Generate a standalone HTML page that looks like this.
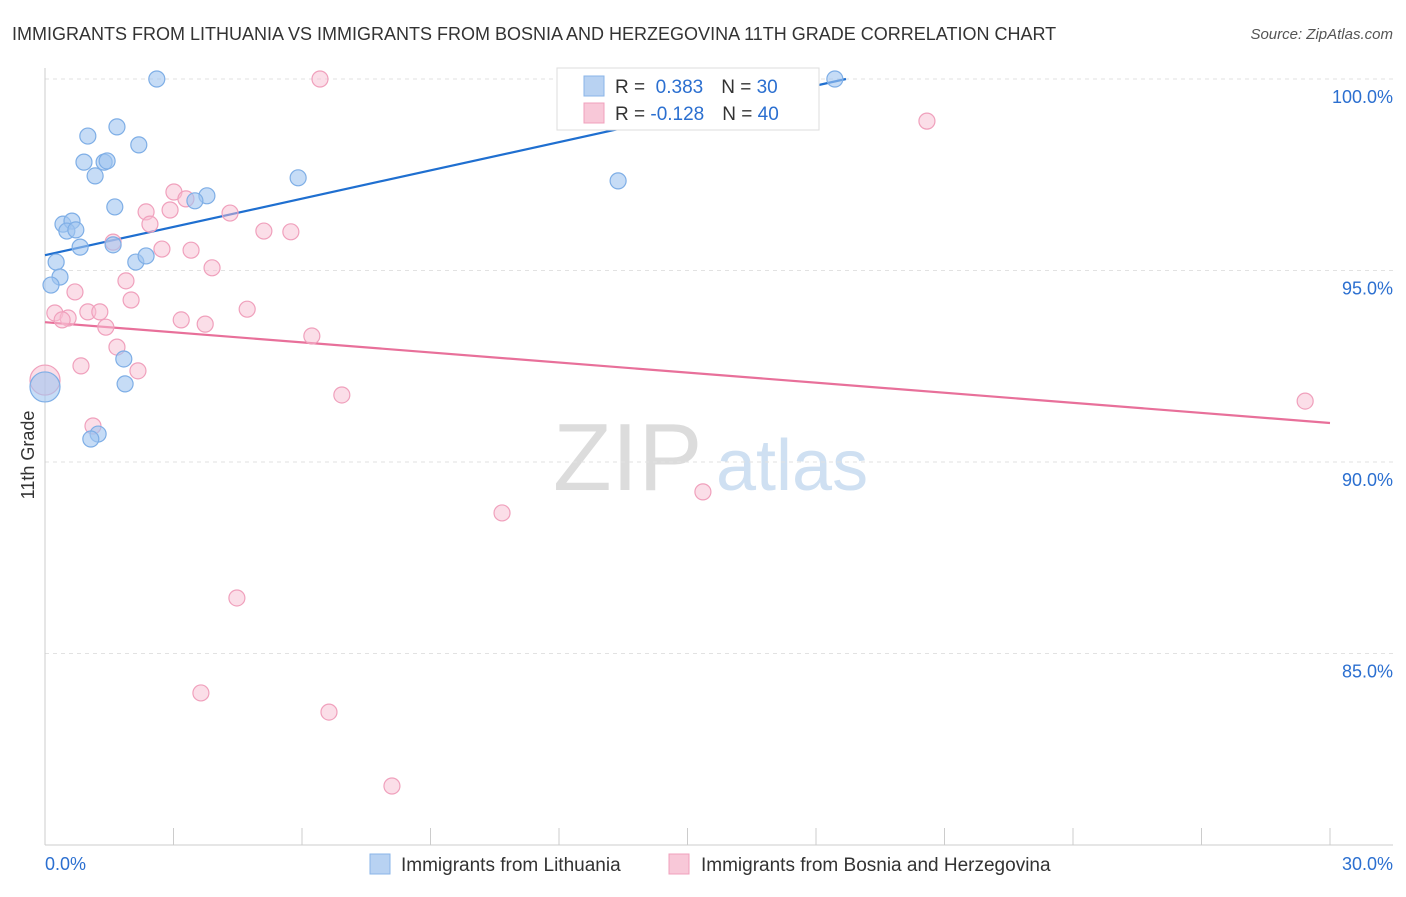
<!DOCTYPE html>
<html><head><meta charset="utf-8"><style>
body{margin:0;background:#fff;font-family:"Liberation Sans",sans-serif;}
svg text{font-family:"Liberation Sans",sans-serif;}
</style></head><body>
<svg id="chart" width="1406" height="892" xmlns="http://www.w3.org/2000/svg">
<text x="12" y="40" font-size="18" fill="#333">IMMIGRANTS FROM LITHUANIA VS IMMIGRANTS FROM BOSNIA AND HERZEGOVINA 11TH GRADE CORRELATION CHART</text>
<text x="1393" y="39" font-size="15" fill="#555" font-style="italic" text-anchor="end">Source: ZipAtlas.com</text>
<g>
<text x="553" y="490" font-size="96" fill="#dcdcdc" font-family="Liberation Serif, serif">ZIP</text>
<text x="716" y="490" font-size="72" fill="#cfe0f2">atlas</text>
</g>
<g id="grid"></g>
<g id="axes"></g>
<g id="trends"></g>
<g id="points"></g>
<text transform="translate(34,455) rotate(-90)" font-size="18" fill="#333" text-anchor="middle">11th Grade</text>
<g>
<rect x="557" y="68" width="262" height="62" fill="#fff" stroke="#ddd"/>
<rect x="584" y="76" width="20" height="20" fill="#b8d2f2" stroke="#8ab4e8"/>
<text x="615" y="93" font-size="19" fill="#333">R = <tspan fill="#2b6fd0">&#160;0.383</tspan><tspan dx="18" fill="#333">N = </tspan><tspan fill="#2b6fd0">30</tspan></text>
<rect x="584" y="103" width="20" height="20" fill="#f8c8d8" stroke="#f0a0bc"/>
<text x="615" y="120" font-size="19" fill="#333">R = <tspan fill="#2b6fd0">-0.128</tspan><tspan dx="18" fill="#333">N = </tspan><tspan fill="#2b6fd0">40</tspan></text>
</g>
<g>
<rect x="370" y="854" width="20" height="20" fill="#b8d2f2" stroke="#8ab4e8"/>
<text x="401" y="871" font-size="19" fill="#333">Immigrants from Lithuania</text>
<rect x="669" y="854" width="20" height="20" fill="#f8c8d8" stroke="#f0a0bc"/>
<text x="701" y="871" font-size="19" fill="#333">Immigrants from Bosnia and Herzegovina</text>
</g>
</svg>
<script>
const yTicks=[100,95,90,85];
const yTickLabels=["100.0%","95.0%","90.0%","85.0%"];
const xTicks=[0,3,6,9,12,15,18,21,24,27,30];
const blueX=[2.61,1.00,1.68,2.19,0.91,1.38,1.45,1.17,1.63,3.78,3.50,5.91,13.38,18.44,0.42,0.63,0.51,0.72,0.82,1.59,0.26,0.35,0.14,2.12,2.36,1.84,1.87,1.24,1.07,0];
const blueY=[100,98.51,98.75,98.28,97.83,97.83,97.86,97.47,96.66,96.95,96.82,97.42,97.34,100,96.21,96.29,96.03,96.06,95.61,95.67,95.22,94.83,94.62,95.22,95.38,92.69,92.04,90.73,90.60,91.96];
const pinkX=[6.42,20.59,3.01,2.36,2.92,3.29,2.45,4.32,5.11,5.74,1.59,2.73,3.41,3.90,1.89,0.70,2.01,4.72,0.23,0.54,1.00,1.28,0.40,3.18,3.74,1.42,6.23,1.68,0.84,2.17,0,6.93,29.42,1.12,15.36,10.67,4.48,3.64,6.63,8.10];
const pinkY=[100,98.90,97.05,96.53,96.58,96.87,96.21,96.50,96.03,96.01,95.74,95.56,95.53,95.07,94.73,94.44,94.23,93.99,93.89,93.76,93.92,93.92,93.71,93.71,93.60,93.52,93.29,93.00,92.51,92.38,92.14,91.75,91.59,90.94,89.22,88.67,86.45,83.97,83.47,81.54];
const blueTrend=[95.40,0.246];
const pinkTrend=[93.65,-0.0877];
const X=v=>45+v*(1285/30);
const Y=v=>79+(100-v)*38.3;
const NS="http://www.w3.org/2000/svg";
function mk(tag,attrs,parent){const e=document.createElementNS(NS,tag);for(const k in attrs)e.setAttribute(k,attrs[k]);document.getElementById(parent).appendChild(e);return e;}
yTicks.forEach((t,i)=>{
 const l=mk('line',{x1:45,x2:1393,y1:Y(t),y2:Y(t),stroke:'#e2e2e2','stroke-dasharray':'4,4'},'grid');
 
 
 const tx=mk('text',{x:1393,y:Y(t)+24,'font-size':18,fill:'#2b6fd0','text-anchor':'end'},'grid');
 tx.textContent=yTickLabels[i];
 
 
});
const ax=mk('line',{x1:45,x2:1393,y1:845,y2:845,stroke:'#ccc'},'axes');


const ay=mk('line',{x1:45,x2:45,y1:68,y2:845,stroke:'#ccc'},'axes');


xTicks.forEach(t=>{
 const l=mk('line',{x1:X(t),x2:X(t),y1:828,y2:845,stroke:'#ccc'},'axes');
 
 
});
const xl0=mk('text',{x:45,y:870,'font-size':18,fill:'#2b6fd0'},'axes');xl0.textContent='0.0%';


const xl1=mk('text',{x:1393,y:870,'font-size':18,fill:'#2b6fd0','text-anchor':'end'},'axes');xl1.textContent='30.0%';


function pts(xs,ys,fill,stroke,name){
 xs.forEach((x,i)=>{
  const big=(x===0);
  const c=mk('circle',{cx:X(x),cy:Y(ys[i]),r:big?15:8,fill:fill,stroke:stroke,'stroke-width':1.2},'points');
  
  
 });
}
pts(pinkX,pinkY,'rgba(248,190,210,0.5)','#f0a0bc','pink-point');
pts(blueX,blueY,'rgba(160,196,240,0.6)','#7eaee6','blue-point');
const bxEnd=(100-blueTrend[0])/blueTrend[1];
const bt=mk('line',{x1:X(0),y1:Y(blueTrend[0]),x2:X(bxEnd),y2:Y(100),stroke:'#1f6fd0','stroke-width':2.2},'trends');


const pt=mk('line',{x1:X(0),y1:Y(pinkTrend[0]),x2:X(30),y2:Y(pinkTrend[0]+pinkTrend[1]*30),stroke:'#e8709a','stroke-width':2.2},'trends');


</script>
</body></html>
